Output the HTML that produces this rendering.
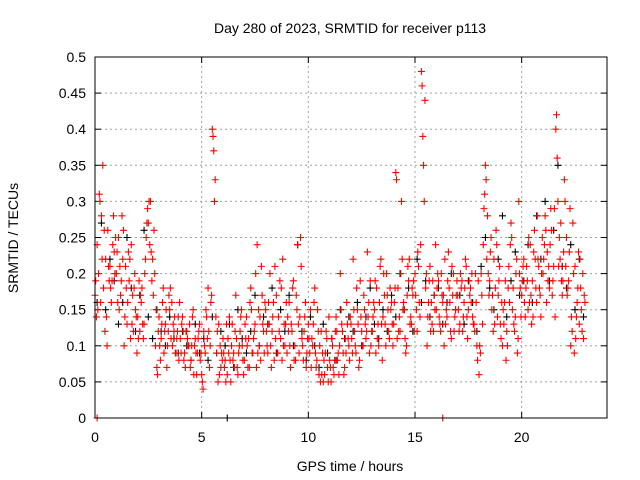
<!DOCTYPE html>
<html><head><meta charset="utf-8"><style>
body{margin:0;background:#fff;}
svg{display:block;font-family:"Liberation Sans",sans-serif;font-size:14px;}
</style></head><body>
<svg id="chart" width="640" height="480">
<text x="350" y="33" text-anchor="middle">Day 280 of 2023, SRMTID for receiver p113</text>
<g id="grid"></g>
<g id="ticks"></g>
<g id="marks"></g>
<rect x="95" y="57" width="512" height="361" fill="none" stroke="#000" stroke-width="1"/>
<text x="18" y="238" text-anchor="middle" transform="rotate(-90 18 238)">SRMTID / TECUs</text>
<text x="350" y="471" text-anchor="middle">GPS time / hours</text>
</svg>
<script>
const xTicks=[0,5,10,15,20];
const yTicks=[0,0.05,0.1,0.15,0.2,0.25,0.3,0.35,0.4,0.45,0.5];
const yTickLabels=["0","0.05","0.1","0.15","0.2","0.25","0.3","0.35","0.4","0.45","0.5"];
const redStep=0.1;
const red1=[0.17,0.24,0.31,0.28,0.18,0.22,0.26,0.21,0.19,0.23,
0.20,0.25,0.17,0.22,0.14,0.13,0.19,0.24,0.12,0.15,
0.14,0.12,0.18,0.13,0.25,0.27,0.30,0.22,0.20,0.07,
0.14,0.11,0.18,0.13,0.10,0.15,0.16,0.12,0.09,0.14,
0.11,0.14,0.09,0.12,0.10,0.08,0.15,0.11,0.09,0.13,
0.06,0.12,0.15,0.18,0.10,0.40,0.30,0.09,0.13,0.07,
0.11,0.08,0.06,0.14,0.10,0.09,0.17,0.06,0.12,0.10,
0.08,0.14,0.11,0.18,0.09,0.13,0.24,0.10,0.21,0.12,
0.15,0.09,0.20,0.12,0.08,0.17,0.14,0.11,0.22,0.10,
0.09,0.16,0.13,0.19,0.08,0.24,0.14,0.11,0.12,0.07,
0.13,0.15,0.10,0.18,0.08,0.06,0.12,0.05,0.09,0.07,
0.08,0.11,0.06,0.14,0.09,0.20,0.12,0.07,0.16,0.10,
0.13,0.22,0.10,0.15,0.08,0.12,0.17,0.11,0.14,0.19,
0.12,0.15,0.18,0.10,0.22,0.14,0.13,0.17,0.11,0.16,
0.13,0.34,0.18,0.12,0.22,0.15,0.10,0.19,0.14,0.17,
0.20,0.12,0.16,0.48,0.35,0.18,0.14,0.21,0.13,0.17,
0.15,0.19,0.12,0.16,0.22,0.14,0.18,0.11,0.20,0.15,
0.17,0.13,0.19,0.16,0.21,0.15,0.18,0.14,0.12,0.10,
0.06,0.20,0.24,0.35,0.28,0.19,0.15,0.22,0.26,0.17,
0.13,0.10,0.16,0.12,0.21,0.27,0.18,0.14,0.09,0.20,
0.17,0.22,0.18,0.15,0.24,0.19,0.26,0.16,0.21,0.14,
0.20,0.28,0.23,0.18,0.26,0.21,0.40,0.30,0.22,0.17,
0.33,0.25,0.19,0.10,0.27,0.21,0.16,0.13,0.15,0.11];
const red2=[0.14,0.20,0.16,0.35,0.12,0.10,0.19,0.16,0.28,0.25,
0.16,0.21,0.28,0.10,0.18,0.23,0.11,0.17,0.20,0.09,
0.19,0.16,0.11,0.22,0.29,0.24,0.19,0.26,0.15,0.12,
0.08,0.16,0.12,0.07,0.17,0.11,0.13,0.09,0.12,0.16,
0.13,0.08,0.12,0.10,0.07,0.14,0.10,0.06,0.12,0.09,
0.04,0.09,0.11,0.07,0.17,0.37,0.14,0.05,0.10,0.08,
0.07,0.13,0.09,0.05,0.08,0.12,0.07,0.10,0.15,0.06,
0.11,0.07,0.16,0.09,0.12,0.07,0.15,0.08,0.13,0.16,
0.10,0.13,0.07,0.16,0.11,0.09,0.19,0.08,0.13,0.16,
0.12,0.07,0.18,0.10,0.15,0.09,0.21,0.08,0.16,0.11,
0.09,0.11,0.16,0.07,0.12,0.05,0.09,0.06,0.11,0.14,
0.05,0.07,0.12,0.08,0.10,0.13,0.06,0.09,0.11,0.14,
0.09,0.12,0.18,0.07,0.14,0.10,0.13,0.23,0.09,0.12,
0.16,0.09,0.13,0.21,0.08,0.17,0.20,0.12,0.15,0.10,
0.18,0.11,0.14,0.30,0.16,0.09,0.21,0.13,0.18,0.12,
0.15,0.21,0.24,0.39,0.44,0.10,0.19,0.16,0.12,0.24,
0.20,0.13,0.17,0.10,0.15,0.23,0.12,0.17,0.14,0.19,
0.12,0.18,0.14,0.22,0.11,0.17,0.20,0.13,0.16,0.19,
0.09,0.13,0.31,0.22,0.17,0.25,0.12,0.18,0.14,0.21,
0.16,0.13,0.08,0.18,0.24,0.15,0.12,0.22,0.30,0.14,
0.21,0.14,0.19,0.16,0.13,0.23,0.18,0.22,0.17,0.25,
0.24,0.16,0.21,0.29,0.19,0.14,0.36,0.25,0.19,0.23,
0.21,0.18,0.29,0.12,0.09,0.14,0.23,0.18,0.20,0.16];
const red3=[0.19,0.15,0.30,0.22,0.26,0.14,0.21,0.18,0.24,0.20,
0.23,0.15,0.19,0.26,0.21,0.16,0.22,0.13,0.18,0.14,
0.11,0.17,0.13,0.20,0.27,0.30,0.23,0.17,0.10,0.06,
0.10,0.13,0.09,0.15,0.12,0.18,0.10,0.14,0.11,0.08,
0.09,0.12,0.07,0.11,0.13,0.10,0.06,0.09,0.11,0.08,
0.05,0.10,0.14,0.12,0.16,0.39,0.33,0.12,0.06,0.09,
0.09,0.05,0.11,0.08,0.13,0.07,0.11,0.09,0.14,0.08,
0.13,0.10,0.07,0.15,0.11,0.20,0.09,0.14,0.17,0.09,
0.12,0.16,0.10,0.14,0.21,0.09,0.12,0.18,0.10,0.13,
0.14,0.10,0.12,0.08,0.17,0.13,0.25,0.10,0.14,0.09,
0.11,0.07,0.13,0.09,0.15,0.10,0.06,0.08,0.12,0.05,
0.07,0.10,0.08,0.12,0.06,0.15,0.09,0.11,0.13,0.08,
0.11,0.15,0.09,0.13,0.19,0.10,0.15,0.12,0.16,0.10,
0.14,0.19,0.11,0.16,0.13,0.20,0.10,0.15,0.18,0.13,
0.16,0.33,0.12,0.20,0.15,0.11,0.17,0.22,0.13,0.19,
0.17,0.23,0.14,0.46,0.30,0.20,0.16,0.12,0.19,0.15,
0.18,0.14,0.20,0.17,0.13,0.19,0.16,0.21,0.12,0.17,
0.15,0.20,0.12,0.18,0.14,0.19,0.16,0.13,0.20,0.08,
0.10,0.17,0.29,0.33,0.20,0.23,0.17,0.13,0.24,0.19,
0.11,0.15,0.19,0.10,0.16,0.25,0.13,0.20,0.11,0.18,
0.19,0.16,0.21,0.25,0.17,0.14,0.22,0.28,0.18,0.20,
0.22,0.26,0.19,0.24,0.17,0.29,0.42,0.21,0.27,0.19,
0.30,0.17,0.23,0.14,0.20,0.11,0.18,0.22,0.12,0.17];
const blackStep=0.2;
const black=[0.16,0.27,0.15,0.22,0.19,0.13,0.16,0.25,0.18,0.12,
0.17,0.26,0.14,0.11,0.15,0.12,0.10,0.14,0.11,0.09,
0.12,0.10,0.08,0.13,0.09,0.11,0.08,0.14,0.09,0.12,
0.10,0.13,0.07,0.15,0.11,0.09,0.12,0.17,0.10,0.14,
0.13,0.18,0.09,0.15,0.12,0.17,0.10,0.24,0.12,0.08,
0.14,0.10,0.07,0.13,0.09,0.11,0.08,0.15,0.11,0.14,
0.12,0.16,0.10,0.14,0.18,0.13,0.11,0.15,0.12,0.17,
0.14,0.20,0.15,0.18,0.12,0.22,0.16,0.19,0.14,0.17,
0.18,0.13,0.16,0.20,0.15,0.17,0.13,0.19,0.16,0.12,
0.21,0.25,0.18,0.15,0.22,0.28,0.14,0.19,0.23,0.17,
0.19,0.24,0.16,0.28,0.22,0.30,0.19,0.26,0.35,0.21,
0.18,0.24,0.15,0.22,0.14];
const zeroTimesRed=[0.1,16.3];
const zeroTimesBlack=[6.2];

const X0=95,X1=607,Y0=418,Y1=57,XMAX=24,YMAX=0.5;
function xs(v){return X0+v/XMAX*(X1-X0);}
function ys(v){return Y0-v/YMAX*(Y0-Y1);}
const NS="http://www.w3.org/2000/svg";
const grid=document.getElementById('grid'),ticks=document.getElementById('ticks'),marks=document.getElementById('marks');
function el(t,a,p){const e=document.createElementNS(NS,t);for(const k in a)e.setAttribute(k,a[k]);p.appendChild(e);return e;}
yTicks.forEach((v,i)=>{
  const y=ys(v);
  if(i>0&&i<yTicks.length-1){const g=el('line',{x1:X0,x2:X1,y1:y,y2:y,stroke:'#a0a0a0','stroke-dasharray':'2,3'},grid);
  
  }
  const t=el('text',{x:86,y:y+5,'text-anchor':'end'},ticks);t.textContent=yTickLabels[i];
  
  
  el('line',{x1:X0,x2:X0+6,y1:y,y2:y,stroke:'#000'},ticks);
  el('line',{x1:X1,x2:X1-6,y1:y,y2:y,stroke:'#000'},ticks);
});
xTicks.forEach(v=>{
  const x=xs(v);
  if(v>0){const g=el('line',{x1:x,x2:x,y1:Y0,y2:Y1,stroke:'#a0a0a0','stroke-dasharray':'2,3'},grid);
  
  }
  const t=el('text',{x:x,y:442,'text-anchor':'middle'},ticks);t.textContent=String(v);
  
  
  el('line',{x1:x,x2:x,y1:Y0,y2:Y0-6,stroke:'#000'},ticks);
  el('line',{x1:x,x2:x,y1:Y1,y2:Y1+6,stroke:'#000'},ticks);
});
function plus(t,v,color,name){
  const x=xs(t),y=ys(v);
  const p=el('path',{d:`M${x-3.5},${y}h7M${x},${y-3.5}v7`,stroke:color,'stroke-width':1.1,fill:'none'},marks);
  
  
}
black.forEach((v,i)=>plus(0.1+i*blackStep,v,'#000','black-point'));
zeroTimesBlack.forEach(t=>plus(t,0,'#000','black-point'));
red1.forEach((v,i)=>plus(i*redStep,v,'#ff0000','red-point'));
red3.forEach((v,i)=>plus(0.033+i*redStep,v,'#ff0000','red-point'));
red2.forEach((v,i)=>plus(0.066+i*redStep,v,'#ff0000','red-point'));
zeroTimesRed.forEach(t=>plus(t,0,'#ff0000','red-point'));
</script>
</body></html>
